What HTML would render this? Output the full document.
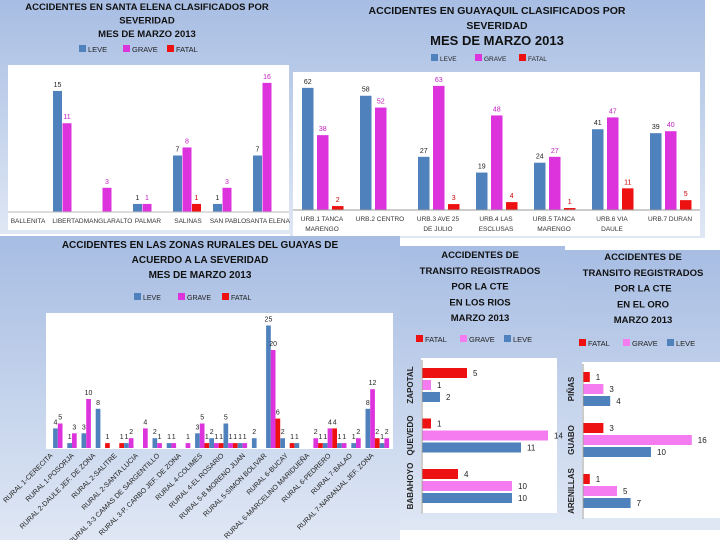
<!DOCTYPE html>
<html><head><meta charset="utf-8"><style>
html,body{margin:0;padding:0;background:#fff;}
svg{display:block;font-family:"Liberation Sans",sans-serif;}
</style></head><body>
<svg id="s" width="720" height="540" viewBox="0 0 720 540">
<defs>
<linearGradient id="bg" x1="0" y1="0" x2="0" y2="1"><stop offset="0" stop-color="#a7bde3"/><stop offset="1" stop-color="#dfe7f4"/></linearGradient>
</defs>
<rect x="0" y="0" width="720" height="540" fill="#fff"/>
<rect x="0" y="0" width="290" height="234" fill="url(#bg)"/>
<rect x="290" y="0" width="415" height="238" fill="url(#bg)"/>
<rect x="0" y="236" width="400" height="304" fill="url(#bg)"/>
<rect x="400" y="246" width="165" height="284" fill="url(#bg)"/>
<rect x="565" y="250" width="155" height="280" fill="url(#bg)"/>
<rect x="8" y="65" width="281" height="165" fill="#fff"/>
<rect x="293" y="72" width="407" height="164" fill="#fff"/>
<rect x="46" y="313" width="347" height="136" fill="#fff"/>
<rect x="421" y="358" width="136" height="155" fill="#fff"/>
<rect x="582" y="362" width="138" height="156" fill="#fff"/>
<g id="g"></g>
</svg>
<script>
const seCats=["BALLENITA","LIBERTAD","MANGLARALTO","PALMAR","SALINAS","SAN PABLO","SANTA ELENA"];
const seLeve=[0,15,0,1,7,1,7];
const seGrave=[0,11,3,1,8,3,16];
const seFatal=[0,0,0,0,1,0,0];

const gyCats=[["URB.1 TANCA","MARENGO"],["URB.2 CENTRO",""],["URB.3 AVE 25","DE JULIO"],["URB.4 LAS","ESCLUSAS"],["URB.5 TANCA","MARENGO"],["URB.6 VIA","DAULE"],["URB.7 DURAN",""]];
const gyLeve=[62,58,27,19,24,41,39];
const gyGrave=[38,52,63,48,27,47,40];
const gyFatal=[2,0,3,4,1,11,5];

const ruLeve=[4,1,3,8,0,1,0,2,1,0,3,2,5,1,2,25,2,1,0,1,1,1,8,1];
const ruGrave=[5,3,10,0,0,2,4,1,1,1,5,1,1,1,0,20,0,0,2,4,1,2,12,2];
const ruFatal=[0,0,0,1,1,0,0,0,0,0,1,1,1,0,0,6,1,0,1,4,0,0,2,0];
const ruLabels=["RURAL 1-CERECITA","RURAL 1-POSORJA","RURAL 2-DAULE JEF. DE ZONA","RURAL 2-SALITRE","RURAL 2-SANTA LUCIA","RURAL 3-3 CAMAS DE SARGENTILLO","RURAL 3-P. CARBO JEF. DE ZONA","RURAL 4-COLIMES","RURAL 4-EL ROSARIO","RURAL 5-B MORENO JUAN","RURAL 5-SIMON BOLIVAR","RURAL 6-BUCAY","RURAL 6-MARCELINO MARIDUEÑA","RURAL 6-PEDRERO","RURAL 7-BALAO","RURAL 7-NARANJAL JEF. ZONA"];

const lrCats=["ZAPOTAL","QUEVEDO","BABAHOYO"];
const lrFatal=[5,1,4];
const lrGrave=[1,14,10];
const lrLeve=[2,11,10];

const eoCats=["PIÑAS","GUABO","ARENILLAS"];
const eoFatal=[1,3,1];
const eoGrave=[3,16,5];
const eoLeve=[4,10,7];

const NS="http://www.w3.org/2000/svg";
const G=document.getElementById('g');
const LEVE="#4f81bd",GRAVE="#dd33dd",FATAL="#ee1111",PINK="#f47cf0";
function el(t,a,txt){const e=document.createElementNS(NS,t);for(const k in a)e.setAttribute(k,a[k]);if(txt!==undefined)e.textContent=txt;G.appendChild(e);return e;}
function txt(x,y,s,o){o=o||{};const e=el('text',{x:x,y:y,'font-size':o.fs||9,'text-anchor':o.anchor||'middle',fill:o.fill||'#111','font-weight':o.bold?'bold':'normal'},s);if(o.tr)e.setAttribute('transform',o.tr);return e;}
function legend(cx,y,items,fs){let total=items.length*44;let x=cx-total/2;items.forEach(it=>{const r=el('rect',{x:x,y:y-7,width:7,height:7,fill:it[1]});const t=txt(x+9,y,it[0],{fs:fs||8,anchor:'start',fill:'#222'});x+=44;});}
function title(cx,y0,lines,dy,fs){lines.forEach((l,i)=>{const t=txt(cx,y0+i*dy,l,{fs:(Array.isArray(fs)?fs[i]:fs),bold:true,fill:'#111'});});}
function vbar(x,w,base,h,color,val,name,lblColor){const r=el('rect',{x:x,y:base-h,width:w,height:Math.max(h,0),fill:color});if(val>0){const t=txt(x+w/2,base-h-4,String(val),{fs:7,fill:lblColor||'#222'});}}

// Santa Elena
title(147,10,["ACCIDENTES EN SANTA ELENA CLASIFICADOS POR","SEVERIDAD","MES DE MARZO 2013"],13.5,[9.5,9.5,9.5]);
legend(145,52,[["LEVE",LEVE],["GRAVE",GRAVE],["FATAL",FATAL]],7.5);
(function(){const x0=8,band=40,base=212,ys=v=>v*8.07;
seCats.forEach((c,i)=>{const cx=x0+band*(i+0.5);
vbar(cx-15,9,base,ys(seLeve[i]),LEVE,seLeve[i],'bar-leve-'+i);
vbar(cx-5.5,9,base,ys(seGrave[i]),GRAVE,seGrave[i],'bar-grave-'+i,'#c020c0');
vbar(cx+4,9,base,ys(seFatal[i]),FATAL,seFatal[i],'bar-fatal-'+i,'#c00');
const t=txt(cx,223,c,{fs:6.5,fill:'#333'});});
el('line',{x1:8,y1:base,x2:289,y2:base,stroke:'#bbb','stroke-width':1});})();

// Guayaquil
title(497,14,["ACCIDENTES EN GUAYAQUIL CLASIFICADOS POR","SEVERIDAD"],15,10.5);
title(497,45,["MES DE MARZO 2013"],15,13);
legend(497,61,[["LEVE",LEVE],["GRAVE",GRAVE],["FATAL",FATAL]],6.5);
(function(){const x0=293,band=58,base=210,ys=v=>v*1.97;
gyCats.forEach((c,i)=>{const cx=x0+band*(i+0.5);
vbar(cx-20,11.5,base,ys(gyLeve[i]),LEVE,gyLeve[i],'bar-leve-'+i);
vbar(cx-5,11.5,base,ys(gyGrave[i]),GRAVE,gyGrave[i],'bar-grave-'+i,'#c020c0');
vbar(cx+10,11.5,base,ys(gyFatal[i]),FATAL,gyFatal[i],'bar-fatal-'+i,'#c00');
let t=txt(cx,221,c[0],{fs:6.5,fill:'#333'});
t=txt(cx,231,c[1],{fs:6.5,fill:'#333'});});
el('line',{x1:293,y1:base,x2:700,y2:base,stroke:'#999','stroke-width':1});})();

// Rural
title(200,248,["ACCIDENTES EN LAS ZONAS RURALES DEL GUAYAS DE","ACUERDO A LA SEVERIDAD","MES DE MARZO 2013"],15,[10,10,10]);
legend(200,300,[["LEVE",LEVE],["GRAVE",GRAVE],["FATAL",FATAL]],7);
(function(){const x0=53,band=14.2,base=448,ys=v=>v*4.9;
ruLeve.forEach((v,i)=>{const cx=x0+band*(i+0.5);
vbar(cx-7,4.7,base,ys(ruLeve[i]),LEVE,ruLeve[i],'bar-leve-'+i);
vbar(cx-2.3,4.7,base,ys(ruGrave[i]),GRAVE,ruGrave[i],'bar-grave-'+i);
vbar(cx+2.4,4.7,base,ys(ruFatal[i]),FATAL,ruFatal[i],'bar-fatal-'+i);});
const lx0=53,lstep=21.4;
ruLabels.forEach((l,i)=>{const x=lx0+lstep*i,y=456;const t=txt(x,y,l,{fs:7,anchor:'end',fill:'#222',tr:'rotate(-45 '+x+' '+y+')'});});})();

// horizontal charts
function hchart(cats,F,Gr,L,base,top0,step,scale,gcol,name){
cats.forEach((c,i)=>{const y=top0+step*i;
[[F,FATAL],[Gr,gcol],[L,LEVE]].forEach((s,j)=>{const v=s[0][i];const r=el('rect',{x:base,y:y+j*12,width:v*scale,height:10,fill:s[1]});
const t=txt(base+v*scale+6,y+j*12+8,String(v),{fs:8,anchor:'start',fill:'#222'});});
const cy=y+17,cx=base-9;const t=txt(cx,cy,c,{fs:8,bold:true,fill:'#222',tr:'rotate(-90 '+cx+' '+cy+')'});});
el('line',{x1:base,y1:top0-8,x2:base,y2:top0+step*3-6,stroke:'#999','stroke-width':1});}
title(480,258,["ACCIDENTES DE","TRANSITO REGISTRADOS","POR LA CTE","EN LOS RIOS","MARZO 2013"],15.8,9.5);
legend(482,342,[["FATAL",FATAL],["GRAVE",PINK],["LEVE",LEVE]],7.5);
hchart(lrCats,lrFatal,lrGrave,lrLeve,422,368,50.5,9.0,PINK,'los-rios');
title(643,260,["ACCIDENTES DE","TRANSITO REGISTRADOS","POR LA CTE","EN EL ORO","MARZO 2013"],15.8,9.5);
legend(645,346,[["FATAL",FATAL],["GRAVE",PINK],["LEVE",LEVE]],7.5);
hchart(eoCats,eoFatal,eoGrave,eoLeve,583,372,51,6.8,PINK,'el-oro');
</script>
</body></html>
